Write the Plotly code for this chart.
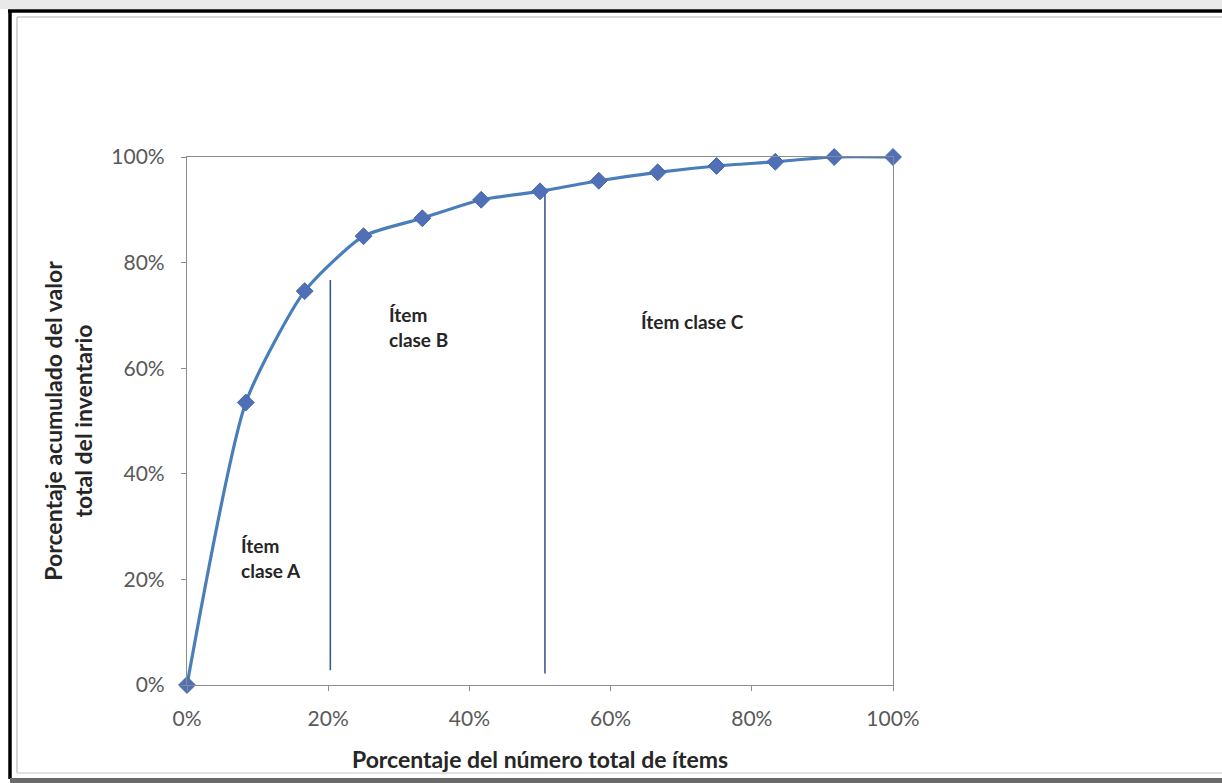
import plotly.graph_objects as go

# Cumulative ABC curve: share of items vs. cumulative share of inventory value
pct_items = [0, 8.33, 16.67, 25, 33.33, 41.67, 50, 58.33, 66.67, 75, 83.33, 91.67, 100]
pct_value = [0, 53.5, 74.6, 85, 88.4, 91.9, 93.5, 95.5, 97.1, 98.3, 99.1, 100, 100]

# Class boundaries (x, bottom, top)
bound_x = [20.3, 50.7]
bound_y0 = [2.8, 2.2]
bound_y1 = [76.7, 93.5]

# Class labels
label_text = ["<b>Ítem<br>clase A</b>", "<b>Ítem<br>clase B</b>", "<b>Ítem clase C</b>"]
label_x = [7.3, 28.3, 64.0]
label_y = [24.0, 67.8, 68.9]

tick_vals = [0, 20, 40, 60, 80, 100]
tick_text = ["0%", "20%", "40%", "60%", "80%", "100%"]

W, H = 1222, 783
L, R, T, B = 187, 893, 157, 685


def px_x(p):
    return (p - L) / (R - L)


def px_y(p):
    return (B - p) / (B - T)


def hline(x0, x1, y, color, width):
    return dict(type="line", xref="paper", yref="paper",
                x0=px_x(x0), x1=px_x(x1), y0=px_y(y), y1=px_y(y),
                line=dict(color=color, width=width), layer="below")


def vline(x, y0, y1, color, width):
    return dict(type="line", xref="paper", yref="paper",
                x0=px_x(x), x1=px_x(x), y0=px_y(y0), y1=px_y(y1),
                line=dict(color=color, width=width), layer="below")


fig = go.Figure()

fig.add_trace(go.Scatter(
    x=pct_items, y=pct_value,
    mode="lines+markers",
    line=dict(color="#4a7ebb", width=3.2, shape="spline", smoothing=0.6),
    marker=dict(symbol="diamond", size=13, color="#4f6fb6",
                line=dict(color="#4a68b0", width=1)),
    cliponaxis=False,
    showlegend=False,
    hoverinfo="skip",
))

shapes = []
for xv, y0, y1 in zip(bound_x, bound_y0, bound_y1):
    shapes.append(dict(type="line", xref="x", yref="y", x0=xv, x1=xv, y0=y0, y1=y1,
                       line=dict(color="#3f5795", width=1.6), layer="below"))

# page frame: grey shadow on top, black outer border, light inner border
shapes.append(dict(type="rect", xref="paper", yref="paper",
                   x0=px_x(0), x1=px_x(W), y0=px_y(0), y1=px_y(9),
                   fillcolor="#e9e9e9", line=dict(width=0), layer="below"))
shapes.append(hline(8, W, 11, "#000000", 3.5))
shapes.append(vline(10, 11, 779, "#000000", 3.5))
shapes.append(hline(17, W, 17, "#c8c8c8", 1.5))
shapes.append(vline(17, 17, 773, "#c8c8c8", 1.5))
shapes.append(hline(17, W, 773, "#d8d8d8", 1.5))
shapes.append(dict(type="rect", xref="paper", yref="paper",
                   x0=px_x(10), x1=px_x(W), y0=px_y(H), y1=px_y(778),
                   fillcolor="#6a6a6a", line=dict(width=0), layer="below"))

annotations = []
for t, xv, yv in zip(label_text, label_x, label_y):
    annotations.append(dict(x=xv, y=yv, xref="x", yref="y", text=t, showarrow=False,
                            xanchor="left", yanchor="middle", align="left",
                            font=dict(family="Lato", size=19, color="#262626")))

fig.update_layout(
    width=W, height=H,
    margin=dict(l=L, r=W - R, t=T, b=H - B),
    paper_bgcolor="white", plot_bgcolor="white",
    shapes=shapes, annotations=annotations,
    font=dict(family="Lato", color="#595959"),
)

fig.update_xaxes(
    range=[0, 100], tickvals=tick_vals, ticktext=tick_text,
    showgrid=False, zeroline=False,
    showline=True, linecolor="#8c8c8c", linewidth=1.2, mirror=True,
    ticks="outside", ticklen=5, tickcolor="#8c8c8c",
    ticklabelstandoff=10,
    tickfont=dict(family="Lato", size=21, color="#595959"),
    title=dict(text="<b>Porcentaje del número total de ítems</b>", standoff=22,
               font=dict(family="Lato", size=23, color="#262626")),
)
fig.update_yaxes(
    range=[0, 100], tickvals=tick_vals, ticktext=tick_text,
    showgrid=False, zeroline=False,
    showline=True, linecolor="#8c8c8c", linewidth=1.2, mirror=True,
    ticks="outside", ticklen=5, tickcolor="#8c8c8c",
    ticklabelstandoff=12,
    tickfont=dict(family="Lato", size=21, color="#595959"),
    title=dict(text="<b>Porcentaje acumulado del valor<br>total del inventario</b>", standoff=12,
               font=dict(family="Lato", size=23, color="#262626")),
)

fig.write_html("out.html")
